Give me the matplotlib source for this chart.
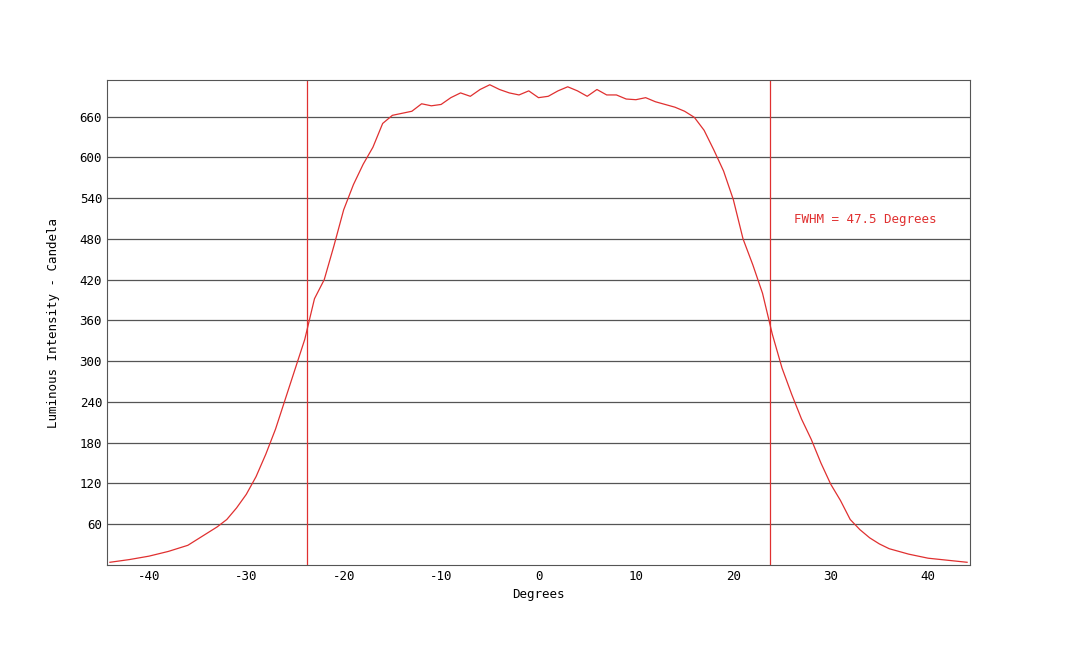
import matplotlib
matplotlib.use("Agg")
import matplotlib.pyplot as plt

deg = [-44,-42,-40,-38,-36,-35,-34,-33,-32,-31,-30,-29,-28,-27,-26,-25,-24,-23,-22,-21,-20,-19,-18,-17,-16,-15,-14,-13,-12,-11,-10,-9,-8,-7,-6,-5,-4,-3,-2,-1,0,1,2,3,4,5,6,7,8,9,10,11,12,13,14,15,16,17,18,19,20,21,22,23,24,25,26,27,28,29,30,31,32,33,34,35,36,38,40,42,44]
cd = [4,8,13,20,29,38,47,56,67,84,104,130,163,200,244,288,332,392,420,470,523,560,590,615,650,662,665,668,679,676,678,688,695,690,700,707,700,695,692,698,688,690,698,704,698,690,700,692,692,686,685,688,682,678,674,668,659,640,611,580,538,480,442,400,340,290,251,215,185,150,119,95,67,52,40,31,24,16,10,7,4]
vlines = [-23.75, 23.75]
yticks = [60,120,180,240,300,360,420,480,540,600,660]
xticks = [-40,-30,-20,-10,0,10,20,30,40]

plt.rcParams['font.family'] = 'DejaVu Sans Mono'
plt.rcParams['axes.unicode_minus'] = False
fig = plt.figure(figsize=(10.8,6.46), dpi=100)
ax = fig.add_axes([107/1080, 1-565/646, 863/1080, 485/646])
ax.plot(deg, cd, color='#e03030', lw=0.9)
for v in vlines:
    ax.axvline(v, color='#e03030', lw=0.9)
ax.set_xlim(-44.3, 44.3)
ax.set_ylim(0, 714)
ax.set_yticks(yticks)
ax.set_xticks(xticks)
ax.grid(axis='y', color='#555555', lw=0.9)
ax.tick_params(labelsize=9, length=0)
for s in ax.spines.values():
    s.set_color('#555555')
ax.set_xlabel('Degrees', fontsize=9)
ax.set_ylabel('Luminous Intensity - Candela', fontsize=9, labelpad=14)
ax.text(26.2, 508, 'FWHM = 47.5 Degrees', color='#e03030', fontsize=9, va='center')
fig.savefig('out.png', dpi=100)
